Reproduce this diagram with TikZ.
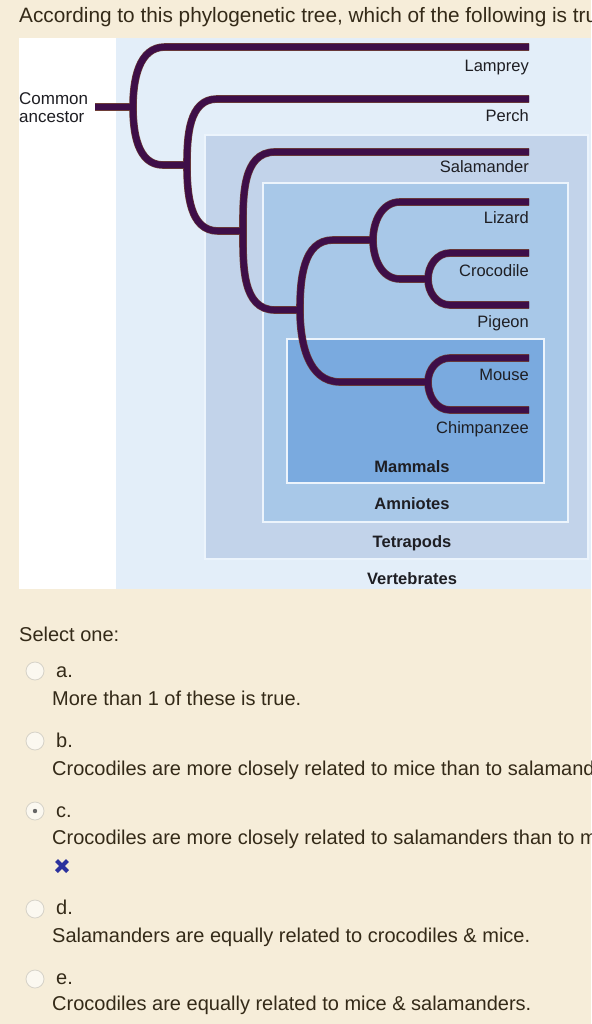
\documentclass[tikz,border=0pt]{standalone}
\usepackage{fontspec}
\setmainfont{Liberation Sans}
\definecolor{cream}{RGB}{246,237,217}
\definecolor{vert}{RGB}{227,238,249}
\definecolor{tetra}{RGB}{194,211,234}
\definecolor{amnio}{RGB}{168,200,232}
\definecolor{mamm}{RGB}{122,170,223}
\definecolor{boxline}{RGB}{236,244,252}
\definecolor{branchc}{RGB}{62,14,72}
\definecolor{branchedge}{RGB}{110,62,55}
\definecolor{uitext}{RGB}{52,42,24}
\definecolor{labeltext}{RGB}{30,30,35}
\definecolor{radioedge}{RGB}{214,210,200}
\definecolor{radiofill}{RGB}{251,248,240}
\definecolor{xblue}{RGB}{44,50,158}
\begin{document}
\begin{tikzpicture}[x=1pt,y=-1pt,
  leaflabel/.style={anchor=base east,inner sep=0pt,text=labeltext,font=\fontsize{16.5}{18}\selectfont},
  grouplabel/.style={anchor=base,inner sep=0pt,text=labeltext,font=\bfseries\fontsize{16.5}{18}\selectfont},
  groupbox/.style={draw=boxline,line width=1.5pt},
  uitxt/.style={anchor=base west,inner sep=0pt,text=uitext,font=\fontsize{20}{22}\selectfont},
  radio/.style={circle,draw=radioedge,fill=radiofill,line width=0.8pt,minimum size=18pt,inner sep=0pt}
]
\useasboundingbox (0,0) rectangle (591,1024);
\clip (0,0) rectangle (591,1024);
\fill[cream] (0,0) rectangle (591,1024);
\node[uitxt,font=\fontsize{20.8}{22}\selectfont] (title) at (19,23) {According to this phylogenetic tree, which of the following is tru};
% image panel
\fill[white] (19,38) rectangle (116,589);
\fill[vert] (116,38) rectangle (591,589);
\fill[tetra] (205,135) rectangle (588,559);
\draw[groupbox] (205,135) rectangle (588,559);
\fill[amnio] (263,183) rectangle (568,522);
\draw[groupbox] (263,183) rectangle (568,522);
\fill[mamm] (287,339) rectangle (544,483);
\draw[groupbox] (287,339) rectangle (544,483);
% tree coordinates
\coordinate (stub) at (95,107);
\coordinate (R) at (133,107);
\coordinate (Ru) at (165,47);
\coordinate (Rd) at (163,165);
\coordinate (N2) at (187,165);
\coordinate (N2u) at (217,99);
\coordinate (N2d) at (218,231);
\coordinate (N3) at (243,231);
\coordinate (N3u) at (275,152);
\coordinate (N3d) at (275,310);
\coordinate (N4) at (300,310);
\coordinate (N4u) at (333,240);
\coordinate (N4d) at (340,382);
\coordinate (N5) at (373,240);
\coordinate (N5u) at (400,202);
\coordinate (N5d) at (400,279);
\coordinate (N7) at (428,279);
\coordinate (N7u) at (450,253);
\coordinate (N7d) at (450,305);
\coordinate (N6) at (428,382);
\coordinate (N6u) at (450,358);
\coordinate (N6d) at (450,410);
\coordinate (tLam) at (529,47);
\coordinate (tPer) at (529,99);
\coordinate (tSal) at (529,152);
\coordinate (tLiz) at (529,202);
\coordinate (tCro) at (529,253);
\coordinate (tPig) at (529,305);
\coordinate (tMou) at (529,358);
\coordinate (tChi) at (529,410);
\foreach \w/\c in {7.6/branchedge,6.4/branchc}{
\begin{scope}[line width=\w pt,draw=\c]
\draw (stub) -- (R);
\draw (R) to[out=90,in=180] (Ru) -- (tLam);
\draw (R) to[out=-90,in=180] (Rd) -- (N2);
\draw (N2) to[out=90,in=180] (N2u) -- (tPer);
\draw (N2) to[out=-90,in=180] (N2d) -- (N3);
\draw (N3) to[out=90,in=180] (N3u) -- (tSal);
\draw (N3) to[out=-90,in=180] (N3d) -- (N4);
\draw (N4) to[out=90,in=180] (N4u) -- (N5);
\draw (N4) to[out=-90,in=180] (N4d) -- (N6);
\draw (N5) to[out=90,in=180] (N5u) -- (tLiz);
\draw (N5) to[out=-90,in=180] (N5d) -- (N7);
\draw (N7) to[out=90,in=180] (N7u) -- (tCro);
\draw (N7) to[out=-90,in=180] (N7d) -- (tPig);
\draw (N6) to[out=90,in=180] (N6u) -- (tMou);
\draw (N6) to[out=-90,in=180] (N6d) -- (tChi);
\end{scope}}
% labels
\node[leaflabel] (lLam) at (529,72) {Lamprey};
\node[leaflabel] (lPer) at (529,122) {Perch};
\node[leaflabel] (lSal) at (529,173) {Salamander};
\node[leaflabel] (lLiz) at (529,224) {Lizard};
\node[leaflabel] (lCro) at (529,276) {Crocodile};
\node[leaflabel] (lPig) at (529,327) {Pigeon};
\node[leaflabel] (lMou) at (529,380) {Mouse};
\node[leaflabel] (lChi) at (529,433) {Chimpanzee};
\node[anchor=base west,inner sep=0pt,text=labeltext,font=\fontsize{17}{18}\selectfont] (anc1) at (19,105) {Common};
\node[anchor=base west,inner sep=0pt,text=labeltext,font=\fontsize{17}{18}\selectfont] (anc2) at (19,123) {ancestor};
\node[grouplabel] (gMam) at (412,472) {Mammals};
\node[grouplabel] (gAmn) at (412,509) {Amniotes};
\node[grouplabel] (gTet) at (412,547) {Tetrapods};
\node[grouplabel] (gVer) at (412,584) {Vertebrates};
% question options
\node[uitxt] (sel) at (19,641) {Select one:};
\node[radio] (ra) at (35,671) {};
\node[uitxt] (la) at (56,677) {a.};
\node[uitxt] (ta) at (52,705) {More than 1 of these is true.};
\node[radio] (rb) at (35,741) {};
\node[uitxt] (lb) at (56,747) {b.};
\node[uitxt] (tb) at (52,775) {Crocodiles are more closely related to mice than to salamand};
\node[radio] (rc) at (35,811) {};
\fill[black!60] (rc) circle (2.2);
\node[uitxt] (lc) at (56,817) {c.};
\node[uitxt] (tc) at (52,844) {Crocodiles are more closely related to salamanders than to m};
\coordinate (xc) at (62,866);
\draw[xblue,line width=4pt] ([shift={(-5.5,-5.5)}]xc) -- ([shift={(5.5,5.5)}]xc);
\draw[xblue,line width=4pt] ([shift={(-5.5,5.5)}]xc) -- ([shift={(5.5,-5.5)}]xc);
\node[radio] (rd) at (35,909) {};
\node[uitxt] (ld) at (56,914) {d.};
\node[uitxt] (td) at (52,942) {Salamanders are equally related to crocodiles \& mice.};
\node[radio] (re) at (35,979) {};
\node[uitxt] (le) at (56,984) {e.};
\node[uitxt] (te) at (52,1010) {Crocodiles are equally related to mice \& salamanders.};
\end{tikzpicture}
\end{document}
